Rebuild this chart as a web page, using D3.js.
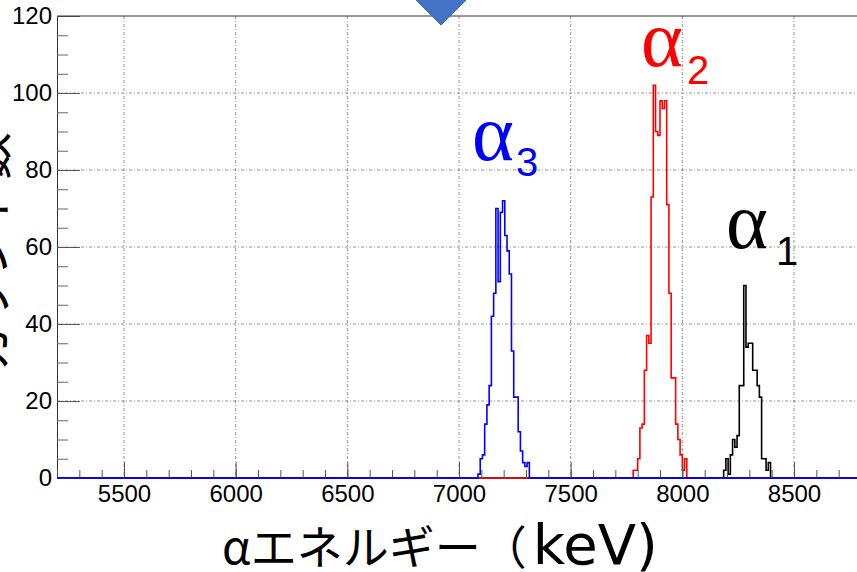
<!DOCTYPE html>
<html>
<head>
<meta charset="utf-8">
<script src="https://cdn.jsdelivr.net/npm/d3@7"></script>
<style>
  body { margin: 0; background: #fff; }
  svg { display: block; }
</style>
</head>
<body>
<svg></svg>
<script>
// bin width 10 keV, counts
var binWidth = 10
var alpha1Start = 8185
var alpha1Counts = [2, 5, 1, 6, 10, 8, 11, 24, 24, 50, 34, 35, 35, 28, 28, 24, 21, 5, 5, 2, 4]
var alpha2Start = 7780
var alpha2Counts = [2, 2, 5, 13, 14, 28, 37, 35, 73, 102, 90, 89, 98, 96, 98, 71, 48, 26, 26, 14, 10, 6, 2, 5]
var alpha3Start = 7085
var alpha3Counts = [1, 5, 6, 14, 19, 24, 42, 48, 70, 51, 69, 72, 63, 59, 53, 33, 21, 21, 12, 7, 4, 3, 4]

var xTicks = [5500, 6000, 6500, 7000, 7500, 8000, 8500]
var yTicks = [0, 20, 40, 60, 80, 100, 120]

var svg = d3.select("svg")
    .attr("width", 857)
    .attr("height", 572)

var margin = {top: 16, left: 57, bottom: 478, right: 861}

var x = d3.scaleLinear().domain([5200, 8800]).range([margin.left, margin.right])
var y = d3.scaleLinear().domain([0, 120]).range([margin.bottom, margin.top])

// grid
var grid = svg.append("g")
grid.selectAll(".gx").data(xTicks).enter().append("line")
    .attr("x1", d => x(d)).attr("x2", d => x(d))
    .attr("y1", margin.top).attr("y2", margin.bottom)
    .attr("stroke", "#777").attr("stroke-width", 0.8)
    .attr("stroke-dasharray", "3,2,1,2")
grid.selectAll(".gy").data(yTicks.slice(1, -1)).enter().append("line")
    .attr("x1", margin.left).attr("x2", margin.right)
    .attr("y1", d => y(d)).attr("y2", d => y(d))
    .attr("stroke", "#777").attr("stroke-width", 0.8)
    .attr("stroke-dasharray", "3,2,1,2")

// histogram -> step points, zero over the whole axis
function histPoints(start, counts) {
    var pts = [[x.domain()[0], 0]]
    counts.forEach((c, i) => pts.push([start + i * binWidth, c]))
    pts.push([start + counts.length * binWidth, 0])
    pts.push([x.domain()[1], 0])
    return pts
}

var line = d3.line()
    .x(d => x(d[0]))
    .y(d => y(d[1]))
    .curve(d3.curveStepAfter)

var series = [
    {start: alpha1Start, counts: alpha1Counts, color: "#000000"},
    {start: alpha2Start, counts: alpha2Counts, color: "#ff0000"},
    {start: alpha3Start, counts: alpha3Counts, color: "#0000ff"}
]

svg.append("g").selectAll("path").data(series).enter().append("path")
    .attr("d", d => line(histPoints(d.start, d.counts)))
    .attr("fill", "none")
    .attr("stroke", d => d.color)
    .attr("stroke-width", 1.6)

// axes
var yMinor = d3.range(0, 121, 5)
var xMinor = d3.range(5200, 8801, 100)

svg.append("g")
    .attr("transform", `translate(${margin.left},0)`)
    .call(d3.axisLeft(y).tickValues(yMinor).tickSize(-11).tickSizeOuter(0).tickFormat(""))
    .call(g => g.selectAll("line").attr("stroke", "#666"))
    .call(g => g.select(".domain").attr("stroke", "#333"))

svg.append("g")
    .attr("transform", `translate(${margin.left},0)`)
    .call(d3.axisLeft(y).tickValues(yTicks).tickSize(-23).tickSizeOuter(0).tickPadding(5))
    .call(g => g.select(".domain").remove())
    .call(g => g.selectAll("line").attr("stroke", "#555"))
    .call(g => g.selectAll("text")
        .attr("font-family", "Liberation Sans, Arial, sans-serif")
        .attr("font-size", 24).attr("fill", "#000"))

svg.append("g")
    .attr("transform", `translate(0,${margin.bottom})`)
    .call(d3.axisBottom(x).tickValues(xMinor).tickSize(-8).tickSizeOuter(0).tickFormat(""))
    .call(g => g.select(".domain").remove())
    .call(g => g.selectAll("line").attr("stroke", "#555"))

svg.append("g")
    .attr("transform", `translate(0,${margin.bottom})`)
    .call(d3.axisBottom(x).tickValues(xTicks).tickSize(-16).tickSizeOuter(0).tickPadding(7).tickFormat(d3.format("d")))
    .call(g => g.select(".domain").remove())
    .call(g => g.selectAll("line").attr("stroke", "#555"))
    .call(g => g.selectAll("text")
        .attr("font-family", "Liberation Sans, Arial, sans-serif")
        .attr("font-size", 24).attr("fill", "#000"))

// top frame
svg.append("line")
    .attr("x1", margin.left).attr("x2", margin.right)
    .attr("y1", margin.top).attr("y2", margin.top)
    .attr("stroke", "#333")

// blue baseline drawn again on top of the ticks
svg.append("line")
    .attr("x1", margin.left).attr("x2", x(alpha3Start))
    .attr("y1", y(0)).attr("y2", y(0))
    .attr("stroke", "#0000ff").attr("stroke-width", 1.6)
svg.append("line")
    .attr("x1", x(alpha3Start + alpha3Counts.length * binWidth)).attr("x2", margin.right)
    .attr("y1", y(0)).attr("y2", y(0))
    .attr("stroke", "#0000ff").attr("stroke-width", 1.6)

// peak labels
var labels = [
    {text: "α", sub: "3", x: 472, y: 160, subX: 516, subY: 176, color: "#0000ff"},
    {text: "α", sub: "2", x: 641, y: 66, subX: 687, subY: 84, color: "#ff0000"},
    {text: "α", sub: "1", x: 726, y: 248, subX: 776, subY: 265, color: "#000000"}
]
var lab = svg.append("g").selectAll("g").data(labels).enter().append("g")
lab.append("text")
    .attr("x", d => d.x).attr("y", d => d.y)
    .attr("font-family", "Liberation Serif, serif")
    .attr("font-size", 80)
    .attr("fill", d => d.color)
    .text(d => d.text)
lab.append("text")
    .attr("x", d => d.subX).attr("y", d => d.subY)
    .attr("font-family", "Liberation Sans, Arial, sans-serif")
    .attr("font-size", 40)
    .attr("fill", d => d.color)
    .text(d => d.sub)

// axis titles
var xt = svg.append("text")
    .attr("x", 222).attr("y", 564)
    .attr("font-family", "Noto Sans CJK JP, sans-serif")
    .attr("font-size", 46)
    .attr("fill", "#000")
xt.append("tspan").text("αエネルギー（")
xt.append("tspan").attr("dx", 6).attr("font-family", "DejaVu Sans, sans-serif").attr("font-size", 56).text("keV)")

svg.append("text")
    .attr("transform", "translate(6,252) rotate(-90)")
    .attr("text-anchor", "middle")
    .attr("font-family", "Noto Sans CJK JP, sans-serif")
    .attr("font-size", 48)
    .attr("fill", "#000")
    .text("カウント数")

// marker triangle at the top
svg.append("path")
    .attr("d", "M414,-2 L468,-2 L441,25 Z")
    .attr("fill", "#4472c4")
    .attr("stroke", "#3b64b0")
    .attr("stroke-width", 1)
</script>
</body>
</html>
